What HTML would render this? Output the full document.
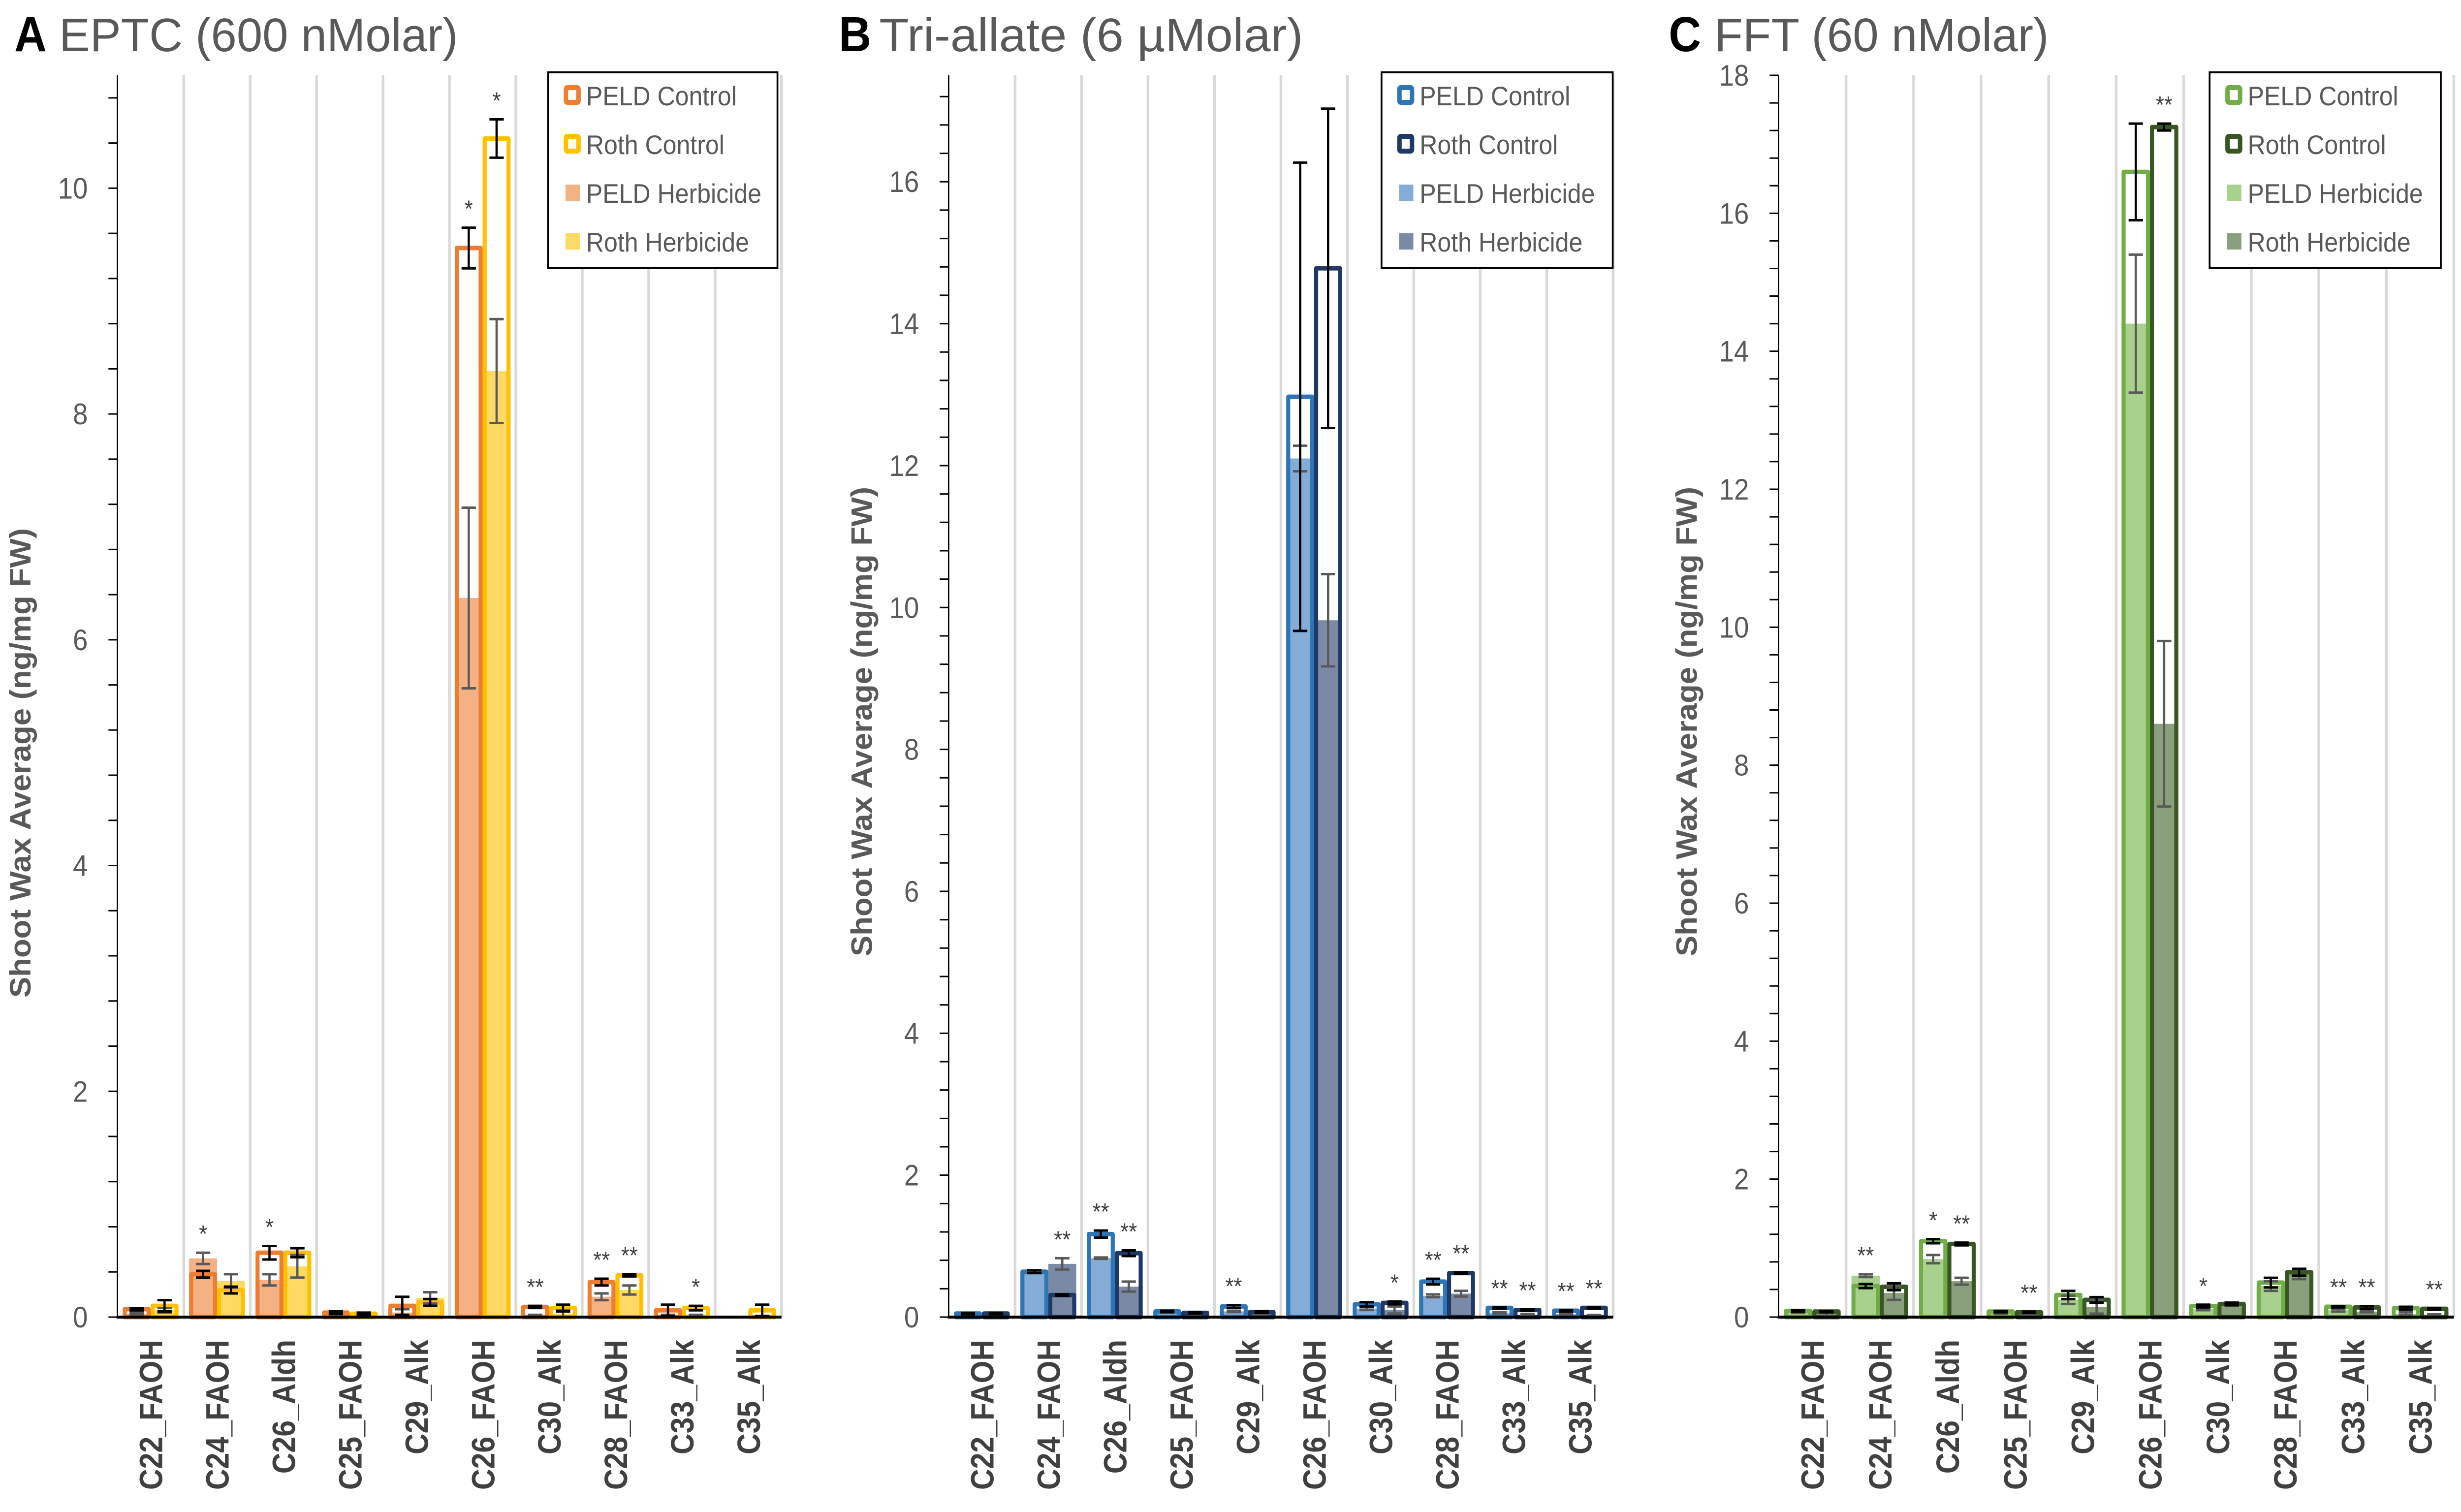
<!DOCTYPE html>
<html><head><meta charset="utf-8">
<style>
html,body{margin:0;padding:0;background:#fff;overflow:hidden;width:100%;height:100%;}
svg{display:block;width:100vw;height:100vh;}
text{font-family:"Liberation Sans",sans-serif;}
</style></head>
<body>
<svg id="chart" viewBox="0 0 5492 3072" preserveAspectRatio="none" xmlns="http://www.w3.org/2000/svg"></svg>
<script>
// ---- data ----
const categories = ["C22_FAOH","C24_FAOH","C26_Aldh","C25_FAOH","C29_Alk","C26_FAOH","C30_Alk","C28_FAOH","C33_Alk","C35_Alk"];
const seriesNames = ["PELD Control","Roth Control","PELD Herbicide","Roth Herbicide"];

// Panel A: EPTC
const aPeldCtrl = [0.07,0.38,0.57,0.04,0.10,9.47,0.09,0.31,0.06,0];
const aPeldCtrlErr = [0.01,0.03,0.06,0.01,0.08,0.18,0.01,0.03,0.05,0];
const aRothCtrl = [0.10,0.24,0.57,0.03,0.13,10.44,0.08,0.37,0.08,0.06];
const aRothCtrlErr = [0.05,0.03,0.04,0.01,0.03,0.17,0.03,0.01,0.02,0.05];
const aPeldHerb = [0.03,0.52,0.33,0.02,0.04,6.37,0.01,0.18,0.01,0];
const aPeldHerbErr = [0.01,0.05,0.05,0.01,0.03,0.80,0.01,0.03,0.01,0];
const aRothHerb = [0.06,0.32,0.45,0.02,0.17,8.38,0.03,0.24,0.01,0];
const aRothHerbErr = [0.02,0.06,0.10,0.01,0.05,0.46,0.03,0.04,0.01,0];
const aStarsPeld = ["","*","*","","","*","**","**","",""];
const aStarsRoth = ["","","","","","*","","**","*",""];
const aTicks = [0,2,4,6,8,10];

// Panel B: Tri-allate
const bPeldCtrl = [0.05,0.64,1.17,0.08,0.15,12.97,0.18,0.50,0.13,0.09];
const bPeldCtrlErr = [0.01,0.02,0.05,0.01,0.02,3.30,0.03,0.04,0.01,0.01];
const bRothCtrl = [0.05,0.31,0.90,0.06,0.07,14.78,0.20,0.62,0.10,0.13];
const bRothCtrlErr = [0.01,0.01,0.04,0.01,0.01,2.25,0.02,0.01,0.01,0.01];
const bPeldHerb = [0.04,0.63,0.83,0.07,0.08,12.10,0.12,0.30,0.06,0.04];
const bPeldHerbErr = [0.01,0.01,0.01,0.01,0.01,0.18,0.02,0.02,0.01,0.01];
const bRothHerb = [0.04,0.75,0.43,0.05,0.05,9.82,0.10,0.33,0.03,0.02];
const bRothHerbErr = [0.01,0.08,0.07,0.01,0.01,0.65,0.05,0.04,0.01,0.01];
const bStarsPeld = ["","","**","","**","","","**","**","**"];
const bStarsRoth = ["","**","**","","","","*","**","**","**"];
const bTicks = [0,2,4,6,8,10,12,14,16];

// Panel C: FFT
const cPeldCtrl = [0.09,0.45,1.10,0.08,0.32,16.60,0.16,0.50,0.15,0.13];
const cPeldCtrlErr = [0.01,0.03,0.03,0.01,0.06,0.70,0.02,0.07,0.01,0.02];
const cRothCtrl = [0.08,0.44,1.06,0.07,0.25,17.25,0.19,0.65,0.14,0.12];
const cRothCtrlErr = [0.01,0.05,0.02,0.01,0.04,0.05,0.02,0.05,0.02,0.01];
const cPeldHerb = [0.07,0.60,0.84,0.06,0.25,14.40,0.12,0.45,0.10,0.05];
const cPeldHerbErr = [0.01,0.02,0.06,0.01,0.06,1.00,0.02,0.07,0.02,0.02];
const cRothHerb = [0.05,0.35,0.52,0.05,0.15,8.60,0.19,0.62,0.08,0.03];
const cRothHerbErr = [0.03,0.10,0.05,0.01,0.10,1.20,0.02,0.07,0.01,0.01];
const cStarsPeld = ["","**","*","","","","*","","**",""];
const cStarsRoth = ["","","**","**","","**","","","**","**"];
const cTicks = [0,2,4,6,8,10,12,14,16,18];

const NS = "http://www.w3.org/2000/svg";
const svg = document.getElementById("chart");
function mk(tag, attrs, parent){
  const e = document.createElementNS(NS, tag);
  for (const k in attrs) e.setAttribute(k, attrs[k]);
  (parent||svg).appendChild(e);
  return e;
}

const BASE = 2676, TOP = 153;

function panel(cfg){
  const g = mk("g", {});
  
  
  const cw = (cfg.right - cfg.left) / categories.length;
  const yS = v => BASE - v * (BASE - TOP) / cfg.max;
  const xC = i => cfg.left + cw * i;

  const t1 = mk("text", {x:cfg.letterX, y:104, "font-size":100, "font-weight":"bold", fill:"#000"}, g);
  t1.textContent = cfg.letter;
  
  
  const t2 = mk("text", {x:cfg.titleX, y:104, "font-size":96, fill:"#595959", textLength:cfg.titleLen, lengthAdjust:"spacingAndGlyphs"}, g);
  t2.textContent = cfg.title;
  
  

  for (let i = 1; i <= categories.length; i++){
    const gl = mk("line", {x1:xC(i), x2:xC(i), y1:TOP, y2:BASE, stroke:"#d9d9d9", "stroke-width":6}, g);
    
    
  }

  const ax = mk("line", {x1:cfg.left, x2:cfg.left, y1:TOP, y2:BASE, stroke:"#000", "stroke-width":3}, g);
  
  
  for (let v = 0; v <= cfg.max + 1e-6; v += 0.4){
    const tk = mk("line", {x1:cfg.left-20, x2:cfg.left, y1:yS(v), y2:yS(v), stroke:"#000", "stroke-width":3}, g);
    
    
  }
  cfg.ticks.forEach(v => {
    const tl = mk("text", {x:cfg.left-66, y:yS(v)+21, "font-size":60, fill:"#595959", "text-anchor":"end"}, g);
    tl.textContent = v;
    
    
  });
  const yt = mk("text", {x:0, y:0, "font-size":66, "font-weight":"bold", fill:"#595959", "text-anchor":"middle",
    textLength:954, lengthAdjust:"spacingAndGlyphs",
    transform:`translate(${cfg.yTitleX},${cfg.yTitleY}) rotate(-90)`}, g);
  yt.textContent = "Shoot Wax Average (ng/mg FW)";
  
  

  const bw = cw * 0.42, off = cw * 0.08;
  const barX = (i, s) => xC(i) + off + s * bw;

  [[cfg.peldHerb, 0, cfg.colors[2]], [cfg.rothHerb, 1, cfg.colors[3]]].forEach(([vals, s, col]) => {
    vals.forEach((v, i) => {
      if (v <= 0) return;
      const r = mk("rect", {x:barX(i,s), y:yS(v), width:bw, height:BASE-yS(v), fill:col}, g);
      
      
    });
  });
  [[cfg.peldCtrl, 0, cfg.colors[0]], [cfg.rothCtrl, 1, cfg.colors[1]]].forEach(([vals, s, col]) => {
    vals.forEach((v, i) => {
      if (v <= 0) return;
      const r = mk("rect", {x:barX(i,s)+4.5, y:yS(v), width:bw-9, height:Math.max(BASE-yS(v),1), fill:"none", stroke:col, "stroke-width":9, "stroke-linejoin":"round"}, g);
      
      
    });
  });
  function errs(vals, es, s, col){
    vals.forEach((v, i) => {
      const e = es[i]; if (v <= 0 || e <= 0) return;
      const cx = barX(i,s) + bw/2;
      const y1 = yS(v+e), y2 = yS(Math.max(v-e,0));
      const eg = mk("g", {stroke:col, "stroke-width":5}, g);
      
      
      mk("line", {x1:cx, x2:cx, y1:y1, y2:y2}, eg);
      mk("line", {x1:cx-16, x2:cx+16, y1:y1, y2:y1}, eg);
      mk("line", {x1:cx-16, x2:cx+16, y1:y2, y2:y2}, eg);
    });
  }
  errs(cfg.peldHerb, cfg.peldHerbErr, 0, "#595959");
  errs(cfg.rothHerb, cfg.rothHerbErr, 1, "#595959");
  errs(cfg.peldCtrl, cfg.peldCtrlErr, 0, "#000");
  errs(cfg.rothCtrl, cfg.rothCtrlErr, 1, "#000");

  [[cfg.starsPeld, 0, cfg.peldCtrl, cfg.peldCtrlErr, cfg.peldHerb, cfg.peldHerbErr],
   [cfg.starsRoth, 1, cfg.rothCtrl, cfg.rothCtrlErr, cfg.rothHerb, cfg.rothHerbErr]].forEach(([st, s, c, ce, h, he]) => {
    st.forEach((lab, i) => {
      if (!lab) return;
      const top = Math.max(c[i]+ce[i], h[i]+he[i]);
      const tx = mk("text", {x:barX(i,s)+bw/2, y:yS(top)-22, "font-size":48, fill:"#404040", "text-anchor":"middle"}, g);
      tx.textContent = lab;
      
      
    });
  });

  const bl = mk("line", {x1:cfg.left-2, x2:cfg.right, y1:BASE, y2:BASE, stroke:"#000", "stroke-width":6}, g);
  
  

  categories.forEach((c, i) => {
    const cx = xC(i) + cw/2 + 26;
    const tx = mk("text", {x:0, y:0, "font-size":72, "font-weight":"bold", fill:"#404040", "text-anchor":"end",
      transform:`translate(${cx},2722) rotate(-90) scale(0.82,1)`}, g);
    tx.textContent = c;
    
    
  });

  const lg = mk("g", {}, g);
  
  
  mk("rect", {x:cfg.legX, y:147, width:cfg.legW, height:397, fill:"#fff", stroke:"#000", "stroke-width":4}, lg);
  const rows = [194, 293, 392, 491];
  seriesNames.forEach((n, k) => {
    const le = mk("g", {}, lg);
    
    
    const mx = cfg.legX + 35;
    if (k < 2) mk("rect", {x:mx+5, y:rows[k]-16, width:28, height:30, fill:"none", stroke:cfg.colors[k], "stroke-width":10, rx:3}, le);
    else mk("rect", {x:mx+4, y:rows[k]-17, width:32, height:33, fill:cfg.colors[k]}, le);
    const tx = mk("text", {x:cfg.legX+85, y:rows[k]+20, "font-size":55, fill:"#595959"}, le);
    tx.textContent = n;
  });
}

panel({id:"eptc", letter:"A", title:"EPTC (600 nMolar)", letterX:32, titleX:132, titleLen:890,
  left:262, right:1744, max:11, ticks:aTicks, yTitleX:68, yTitleY:1550, legX:1223, legW:512,
  colors:["#ED7D31","#FFC000","#F4B183","#FFD966"],
  peldCtrl:aPeldCtrl, peldCtrlErr:aPeldCtrlErr, rothCtrl:aRothCtrl, rothCtrlErr:aRothCtrlErr,
  peldHerb:aPeldHerb, peldHerbErr:aPeldHerbErr, rothHerb:aRothHerb, rothHerbErr:aRothHerbErr,
  starsPeld:aStarsPeld, starsRoth:aStarsRoth});
panel({id:"triallate", letter:"B", title:"Tri-allate (6 \u00B5Molar)", letterX:1872, titleX:1962, titleLen:946,
  left:2117, right:3600, max:17.5, ticks:bTicks, yTitleX:1946, yTitleY:1466, legX:3083, legW:516,
  colors:["#2E75B6","#1F3864","#84ACD6","#7A8AA6"],
  peldCtrl:bPeldCtrl, peldCtrlErr:bPeldCtrlErr, rothCtrl:bRothCtrl, rothCtrlErr:bRothCtrlErr,
  peldHerb:bPeldHerb, peldHerbErr:bPeldHerbErr, rothHerb:bRothHerb, rothHerbErr:bRothHerbErr,
  starsPeld:bStarsPeld, starsRoth:bStarsRoth});
panel({id:"fft", letter:"C", title:"FFT (60 nMolar)", letterX:3724, titleX:3826, titleLen:746,
  left:3969, right:5476, max:18, ticks:cTicks, yTitleX:3787, yTitleY:1466, legX:4931, legW:516,
  colors:["#70AD47","#375623","#A9D18E","#8A9F7B"],
  peldCtrl:cPeldCtrl, peldCtrlErr:cPeldCtrlErr, rothCtrl:cRothCtrl, rothCtrlErr:cRothCtrlErr,
  peldHerb:cPeldHerb, peldHerbErr:cPeldHerbErr, rothHerb:cRothHerb, rothHerbErr:cRothHerbErr,
  starsPeld:cStarsPeld, starsRoth:cStarsRoth});
</script>
</body></html>
